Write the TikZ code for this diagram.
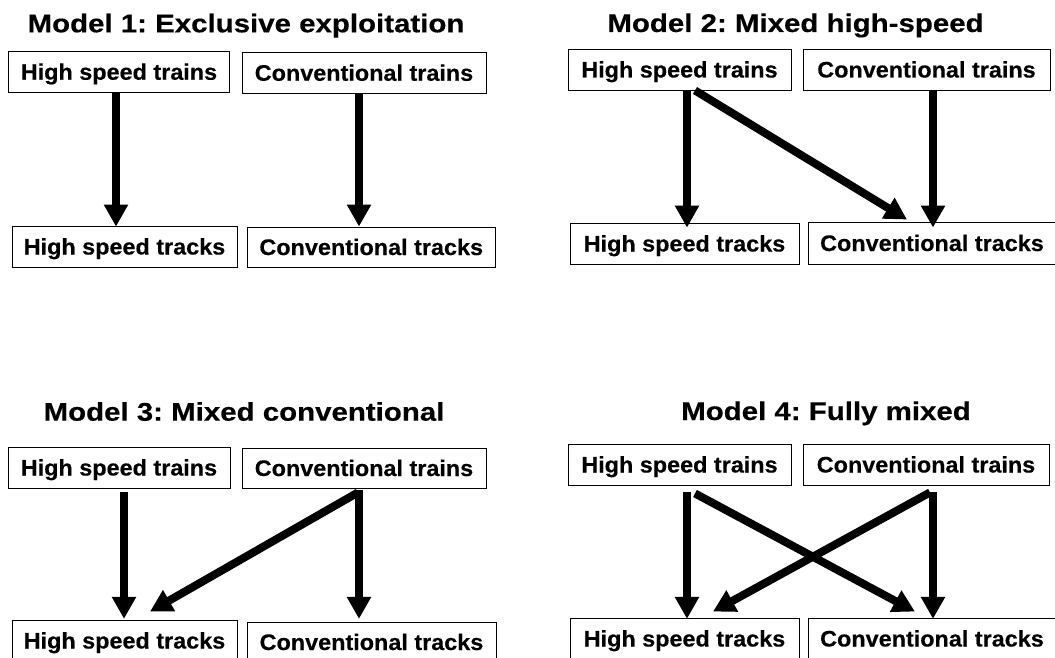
\documentclass[tikz,border=0pt]{standalone}
\usepackage{fontspec}
\setmainfont{Liberation Sans}[BoldFeatures={FakeBold=0.35}]
\usepackage{graphicx}
\usetikzlibrary{arrows.meta,calc}
\frenchspacing
\newcommand\btxt[1]{\scalebox{1.04}[1]{#1}}
\newcommand\ttxt[1]{\scalebox{1.15}[1]{#1}}
\tikzset{
  box/.style={draw, line width=0.9pt, inner sep=0pt, text height=16pt, text depth=0pt,
    font=\fontsize{22.5}{26}\selectfont\bfseries},
  ttl/.style={anchor=base, inner sep=0pt, font=\fontsize{25.6}{30}\selectfont\bfseries},
  arr/.style={line width=8pt, -{Triangle[width=23pt,length=22pt]}},
}
\begin{document}
\begin{tikzpicture}[x=1pt,y=-1pt]
\useasboundingbox (0,0) rectangle (1055,658);
\clip (0,0) rectangle (1055,658);
\fill[white] (0,0) rectangle (1055,658);
% ---------- Model 1
\node[ttl] (m1) at (246,32.3) {\ttxt{Model 1: Exclusive exploitation}};
\node[box, minimum width=221pt, minimum height=40.5pt] (h1) at (119,71.75) {\btxt{High speed trains}};
\node[box, minimum width=244pt, minimum height=40.5pt] (c1) at (364,72.75) {\btxt{Conventional trains}};
\node[box, minimum width=225pt, minimum height=41pt] (t1) at (124.5,246.5) {\btxt{High speed tracks}};
\node[box, minimum width=248.5pt, minimum height=40pt] (u1) at (371.25,247) {\btxt{Conventional tracks}};
\draw[arr] ($(h1.south)+(-3,0)$) -- ($(t1.north)+(-8.5,1)$);
\draw[arr] ($(c1.south)+(-5,0)$) -- ($(u1.north)+(-12.25,0)$);
% ---------- Model 2
\node[ttl] (m2) at (795.5,32) {\ttxt{Model 2: Mixed high-speed}};
\node[box, minimum width=223pt, minimum height=41pt] (h2) at (679.5,69.5) {\btxt{High speed trains}};
\node[box, minimum width=247pt, minimum height=41pt] (c2) at (926.5,69.5) {\btxt{Conventional trains}};
\node[box, minimum width=229pt, minimum height=41pt] (t2) at (684.5,243.5) {\btxt{High speed tracks}};
\node[box, minimum width=248pt, minimum height=42pt] (u2) at (932,243) {\btxt{Conventional tracks}};
\draw[arr] ($(h2.south)+(7.5,0)$) -- ($(t2.north)+(2.5,5)$);
\draw[arr] ($(c2.south)+(6.5,0)$) -- ($(u2.north)+(1,6)$);
\draw[arr] ($(h2.south)+(15.5,0)$) -- ($(u2.north)+(-25,-2)$);
% ---------- Model 3
\node[ttl] (m3) at (244,420.7) {\ttxt{Model 3: Mixed conventional}};
\node[box, minimum width=222pt, minimum height=41pt] (h3) at (119,467.5) {\btxt{High speed trains}};
\node[box, minimum width=244pt, minimum height=40pt] (c3) at (364,468) {\btxt{Conventional trains}};
\node[box, minimum width=225pt, minimum height=41pt] (t3) at (124.5,640.5) {\btxt{High speed tracks}};
\node[box, minimum width=249pt, minimum height=40pt] (u3) at (371.5,642) {\btxt{Conventional tracks}};
\draw[arr] ($(h3.south)+(5,4)$) -- ($(t3.north)+(-0.5,-0.7)$);
\draw[arr] ($(c3.south)+(-5,2)$) -- ($(u3.north)+(-12.5,-2.7)$);
\draw[arr] ($(c3.south)+(-6,4)$) -- ($(t3.north)+(25.5,-8)$);
% ---------- Model 4
\node[ttl] (m4) at (826,420) {\ttxt{Model 4: Fully mixed}};
\node[box, minimum width=223pt, minimum height=41pt] (h4) at (679.5,464.5) {\btxt{High speed trains}};
\node[box, minimum width=246pt, minimum height=41pt] (c4) at (926,464.5) {\btxt{Conventional trains}};
\node[box, minimum width=229pt, minimum height=41pt] (t4) at (684.5,638.5) {\btxt{High speed tracks}};
\node[box, minimum width=248pt, minimum height=41pt] (u4) at (932,638.5) {\btxt{Conventional tracks}};
\draw[arr] ($(h4.south)+(7.5,7)$) -- ($(t4.north)+(2.5,1.3)$);
\draw[arr] ($(c4.south)+(7,7)$) -- ($(u4.north)+(1,1.3)$);
\draw[arr] ($(h4.south)+(15.5,8)$) -- ($(u4.north)+(-17,-6)$);
\draw[arr] ($(c4.south)+(4,7)$) -- ($(t4.north)+(28.5,-6)$);
\end{tikzpicture}
\end{document}
